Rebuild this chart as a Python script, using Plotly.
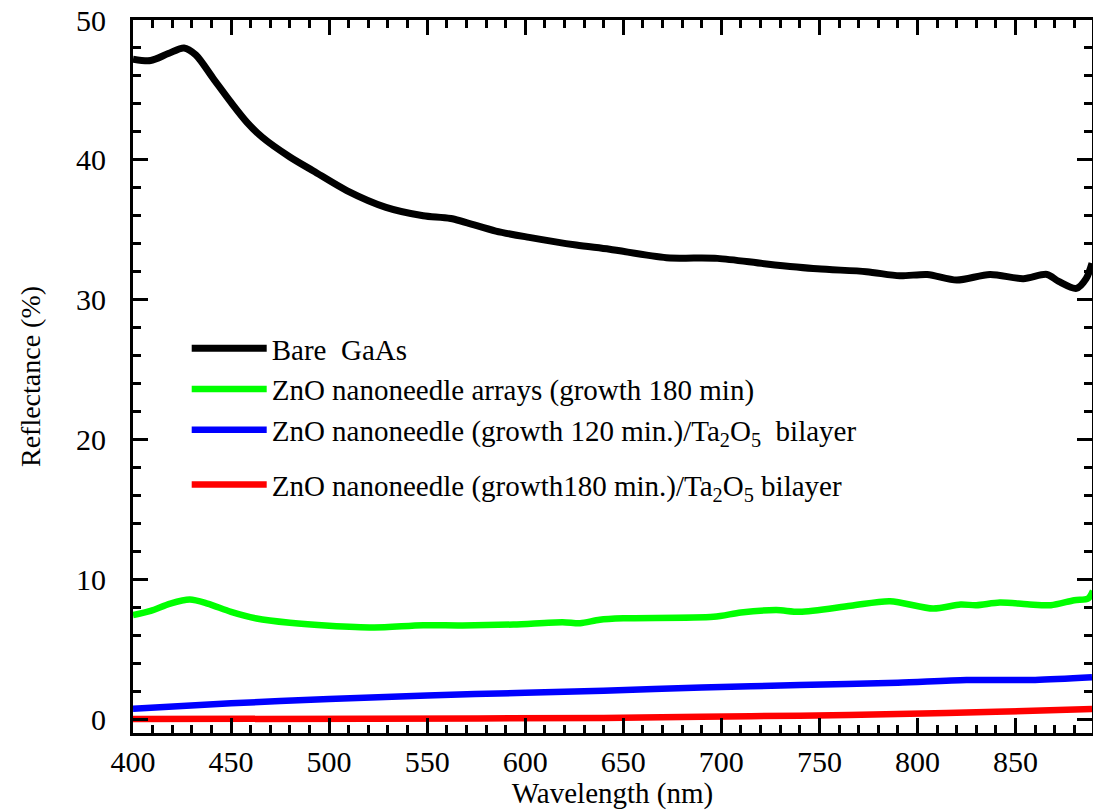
import plotly.graph_objects as go

# ---- data ----
wl_bare = [400, 409, 418, 426, 432, 441, 450, 458, 466, 480, 492, 509, 529, 548, 562,
           585, 602, 626, 643, 672, 698, 723, 749, 774, 791, 805, 820, 837, 854, 866,
           872, 881, 886, 889]
r_bare = [47.2, 47.1, 47.6, 48.0, 47.5, 45.8, 44.1, 42.7, 41.6, 40.2, 39.2, 37.8, 36.6,
          36.0, 35.8, 34.9, 34.45, 33.9, 33.6, 33.0, 32.95, 32.55, 32.2, 32.0, 31.7, 31.8,
          31.4, 31.8, 31.5, 31.8, 31.3, 30.8, 31.5, 32.6]

wl_zno = [400, 409, 419, 429, 438, 450, 463, 480, 500, 523, 548, 568, 594, 619, 628,
          638, 650, 696, 710, 728, 740, 766, 786, 808, 822, 830, 842, 856, 868, 880,
          887, 889.5]
r_zno = [7.43, 7.74, 8.26, 8.55, 8.26, 7.67, 7.19, 6.88, 6.67, 6.55, 6.71, 6.69, 6.76,
         6.93, 6.85, 7.1, 7.2, 7.31, 7.62, 7.79, 7.67, 8.1, 8.43, 7.9, 8.19, 8.14, 8.33,
         8.21, 8.14, 8.5, 8.62, 9.16]

wl_b120 = [400, 450, 500, 550, 600, 640, 690, 740, 790, 825, 860, 889]
r_b120 = [0.74, 1.12, 1.43, 1.69, 1.88, 2.02, 2.26, 2.43, 2.6, 2.79, 2.79, 2.98]

wl_b180 = [400, 520, 640, 690, 740, 790, 840, 889]
r_b180 = [0.0, 0.02, 0.08, 0.17, 0.24, 0.36, 0.52, 0.71]

names = [
    "Bare  GaAs",
    "ZnO nanoneedle arrays (growth 180 min)",
    "ZnO nanoneedle (growth 120 min.)/Ta<sub>2</sub>O<sub>5</sub>  bilayer",
    "ZnO nanoneedle (growth180 min.)/Ta<sub>2</sub>O<sub>5</sub> bilayer",
]
colors = ["#000000", "#00ff00", "#0000ff", "#ff0000"]
widths = [7, 6.5, 6.5, 6.5]
groups = ["a", "a", "a", "b"]

series = [(wl_bare, r_bare), (wl_zno, r_zno), (wl_b120, r_b120), (wl_b180, r_b180)]

FONT = "Tinos, Liberation Serif, DejaVu Serif, serif"

fig = go.Figure()
for (x, y), n, c, w, g in zip(series, names, colors, widths, groups):
    fig.add_trace(go.Scatter(x=x, y=y, mode="lines", name=n, legendgroup=g,
                             line=dict(color=c, width=w, shape="spline", smoothing=0.8)))

axis_common = dict(
    showline=True, linecolor="black", linewidth=3, mirror="allticks",
    ticks="inside", ticklen=15, tickwidth=3, tickcolor="black",
    showgrid=False, zeroline=False, automargin=False,
    tickfont=dict(family=FONT, size=30, color="black"),
)

fig.update_xaxes(range=[400, 889], tickmode="linear", tick0=400, dtick=50,
                 minor=dict(ticks="inside", ticklen=8, tickwidth=3, tickcolor="black", dtick=10),
                 ticklabelstandoff=0,
                 title=dict(text="Wavelength (nm)", font=dict(family=FONT, size=29, color="black"), standoff=16),
                 **axis_common)
fig.update_yaxes(range=[-1, 50], tickmode="linear", tick0=0, dtick=10,
                 minor=dict(ticks="inside", ticklen=8, tickwidth=3, tickcolor="black", dtick=2),
                 title=dict(text="Reflectance (%)", font=dict(family=FONT, size=28, color="black"), standoff=28),
                 ticklabelstandoff=18,
                 **axis_common)

fig.update_layout(
    width=1093, height=810,
    margin=dict(l=133, r=1, t=20, b=77),
    plot_bgcolor="white", paper_bgcolor="white",
    font=dict(family=FONT, color="black"),
    legend=dict(x=0.056, y=0.575, xanchor="left", yanchor="top",
                bgcolor="rgba(0,0,0,0)", borderwidth=0,
                font=dict(family=FONT, size=29, color="black"),
                itemwidth=75, tracegroupgap=14),
    showlegend=True,
)

fig.write_html("out.html", config={"displayModeBar": False},
               post_script="document.body.style.margin='0px';document.body.style.overflow='hidden';")
